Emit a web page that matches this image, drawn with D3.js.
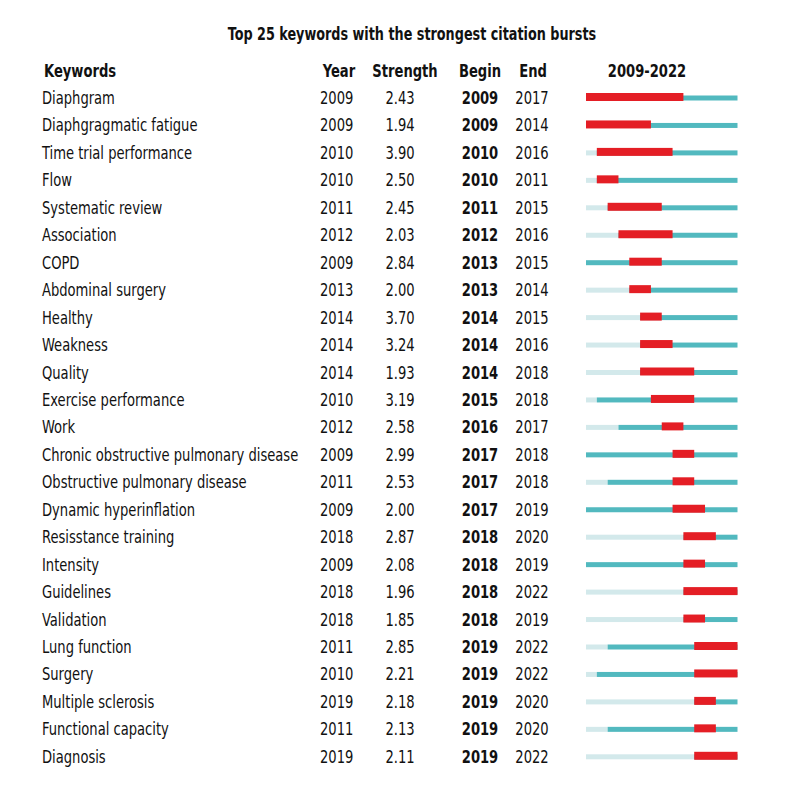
<!DOCTYPE html>
<html lang="en">
<head>
<meta charset="utf-8">
<title>Top 25 keywords with the strongest citation bursts</title>
<script src="https://d3js.org/d3.v7.min.js"></script>
<style>
  body { margin: 0; background: #fff; }
  svg text { font-family: "DejaVu Sans Condensed", "DejaVu Sans", sans-serif; fill: #111; font-size: 18px; }
  .bold { font-weight: bold; }
</style>
</head>
<body>
<script>
// keyword data
var keywords = ["Diaphgram", "Diaphgragmatic fatigue", "Time trial performance", "Flow",
  "Systematic review", "Association", "COPD", "Abdominal surgery", "Healthy", "Weakness",
  "Quality", "Exercise performance", "Work", "Chronic obstructive pulmonary disease",
  "Obstructive pulmonary disease", "Dynamic hyperinflation", "Resisstance training",
  "Intensity", "Guidelines", "Validation", "Lung function", "Surgery", "Multiple sclerosis",
  "Functional capacity", "Diagnosis"];
var years = [2009, 2009, 2010, 2010, 2011, 2012, 2009, 2013, 2014, 2014, 2014, 2010, 2012,
  2009, 2011, 2009, 2018, 2009, 2018, 2018, 2011, 2010, 2019, 2011, 2019];
var strengths = [2.43, 1.94, 3.90, 2.50, 2.45, 2.03, 2.84, 2.00, 3.70, 3.24, 1.93, 3.19, 2.58,
  2.99, 2.53, 2.00, 2.87, 2.08, 1.96, 1.85, 2.85, 2.21, 2.18, 2.13, 2.11];
var begins = [2009, 2009, 2010, 2010, 2011, 2012, 2013, 2013, 2014, 2014, 2014, 2015, 2016,
  2017, 2017, 2017, 2018, 2018, 2018, 2018, 2019, 2019, 2019, 2019, 2019];
var ends = [2017, 2014, 2016, 2011, 2015, 2016, 2015, 2014, 2015, 2016, 2018, 2018, 2017,
  2018, 2018, 2019, 2020, 2019, 2022, 2019, 2022, 2022, 2020, 2020, 2022];
var headers = ["Keywords", "Year", "Strength", "Begin", "End", "2009-2022"];
var firstYear = 2009, lastYear = 2022;

var rows = keywords.map(function(k, i) {
  return { keyword: k, year: years[i], strength: strengths[i], begin: begins[i], end: ends[i] };
});

var width = 800, height = 800;
var squeeze = 0.81;   // no condensed font like the original, so narrow DejaVu a bit more

function narrow(px, py) {
  return "translate(" + px + "," + py + ") scale(" + squeeze + ",1)";
}

var svg = d3.select("body").append("svg")
  .attr("width", width)
  .attr("height", height);

// row baselines
var y = d3.scaleLinear()
  .domain([0, rows.length - 1])
  .range([104, 104 + 27.45 * (rows.length - 1)]);

// timeline from start of 2009 to end of 2022
var x = d3.scaleLinear()
  .domain([firstYear, lastYear + 1])
  .range([586, 737.5]);

svg.append("text")
  .attr("class", "bold")
  .attr("transform", "translate(412,40) scale(0.79,1)")
  .attr("text-anchor", "middle")
  .text("Top 25 keywords with the strongest citation bursts");

// header row
var headX = [44, 339, 405, 480, 533, 647];
var headAnchor = ["start", "middle", "middle", "middle", "middle", "middle"];
svg.selectAll(".head")
  .data(headers)
  .enter().append("text")
  .attr("class", "head bold")
  .attr("transform", function(d, i) { return narrow(headX[i], 77); })
  .attr("text-anchor", function(d, i) { return headAnchor[i]; })
  .text(function(d) { return d; });

var g = svg.selectAll(".row")
  .data(rows)
  .enter().append("g")
  .attr("class", "row")
  .attr("transform", function(d, i) { return "translate(0," + y(i) + ")"; });

g.append("text").attr("transform", narrow(42, 0)).text(function(d) { return d.keyword; });
g.append("text").attr("transform", narrow(320, 0)).text(function(d) { return d.year; });
g.append("text").attr("transform", narrow(400, 0)).attr("text-anchor", "middle")
  .text(function(d) { return d3.format(".2f")(d.strength); });
g.append("text").attr("class", "bold").attr("transform", narrow(480, 0)).attr("text-anchor", "middle")
  .text(function(d) { return d.begin; });
g.append("text").attr("transform", narrow(532, 0)).attr("text-anchor", "middle")
  .text(function(d) { return d.end; });

// before the keyword appeared
g.append("rect")
  .attr("x", x(firstYear))
  .attr("y", -8.5)
  .attr("width", function(d) { return x(d.year) - x(firstYear); })
  .attr("height", 5)
  .attr("fill", "#d3e9eb");

// keyword present
g.append("rect")
  .attr("x", function(d) { return x(d.year); })
  .attr("y", -8.5)
  .attr("width", function(d) { return x(lastYear + 1) - x(d.year); })
  .attr("height", 5)
  .attr("fill", "#52b9bf");

// burst
g.append("rect")
  .attr("x", function(d) { return x(d.begin); })
  .attr("y", -11)
  .attr("width", function(d) { return x(d.end + 1) - x(d.begin); })
  .attr("height", 8)
  .attr("fill", "#e41e25");
</script>
</body>
</html>
